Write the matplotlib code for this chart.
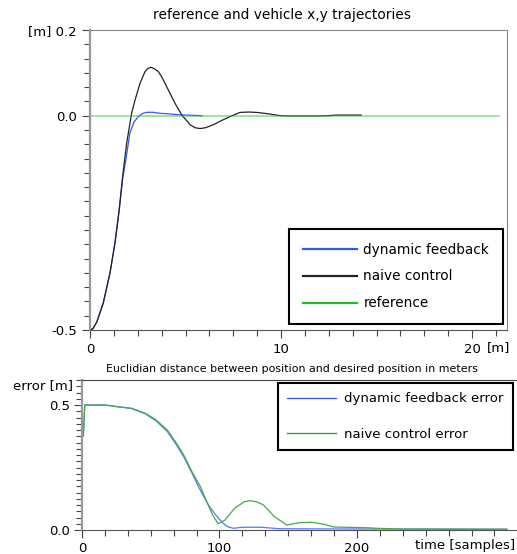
import matplotlib
matplotlib.use("Agg")
import matplotlib.pyplot as plt
from matplotlib.ticker import MultipleLocator

# top plot: x,y trajectories [m]
dyn_x = [0, 0.15, 0.35, 0.55, 0.70, 1.05, 1.31, 1.53, 1.71, 1.88, 2.09, 2.30, 2.53, 2.75,
         2.97, 3.30, 3.58, 4.20, 4.71, 5.30, 5.85]
dyn_y = [-0.5, -0.497, -0.482, -0.456, -0.436, -0.366, -0.296, -0.219, -0.147, -0.102,
         -0.040, -0.015, -0.002, 0.005, 0.008, 0.008, 0.006, 0.004, 0.002, 0.001, 0.0]

naive_x = [0, 0.15, 0.35, 0.55, 0.70, 1.05, 1.31, 1.53, 1.71, 1.92, 2.18, 2.36, 2.62, 2.88,
           3.03, 3.18, 3.35, 3.58, 3.80, 4.01, 4.45, 4.80, 5.24, 5.50, 5.76, 6.05, 6.46,
           6.90, 7.33, 7.85, 8.30, 8.73, 9.42, 9.86, 10.2, 11.95, 12.4, 12.9, 14.2]
naive_y = [-0.5, -0.497, -0.482, -0.456, -0.436, -0.366, -0.296, -0.219, -0.141, -0.064,
           0.006, 0.037, 0.076, 0.103, 0.110, 0.113, 0.110, 0.103, 0.087, 0.068, 0.029,
           0.002, -0.021, -0.028, -0.030, -0.028, -0.021, -0.011, -0.002, 0.0077, 0.0086,
           0.0077, 0.004, 0.0007, -0.0005, -0.0005, 0.0, 0.0015, 0.0015]

ref_x = [0, 21.4]
ref_y = [0, 0]

# bottom plot: error vs samples
naive_t = [1, 2, 17, 26, 36, 46, 54, 62, 68, 74, 80, 86, 91, 95, 99, 104, 111, 118, 122,
           127, 132, 140, 149, 158, 167, 176, 183, 207, 214, 231, 309]
naive_err = [0.376, 0.5, 0.5, 0.493, 0.487, 0.467, 0.44, 0.40, 0.353, 0.30, 0.233, 0.175,
             0.11, 0.06, 0.025, 0.04, 0.087, 0.113, 0.117, 0.113, 0.10, 0.053, 0.02,
             0.029, 0.031, 0.023, 0.012, 0.009, 0.007, 0.004, 0.003]

dyn_t = [1, 2, 17, 26, 36, 46, 54, 62, 68, 74, 80, 85, 92, 97, 102, 106, 110, 117, 130,
         144, 200, 309]
dyn_err = [0.376, 0.5, 0.5, 0.493, 0.486, 0.465, 0.436, 0.394, 0.346, 0.293, 0.228, 0.170,
           0.100, 0.062, 0.030, 0.013, 0.007, 0.011, 0.011, 0.005, 0.004, 0.003]


def style_axes(ax, pad=3.5):
    ax.tick_params(direction="out", length=6, width=0.8, color="#444444", labelsize=9.5,
                   pad=pad)
    ax.tick_params(which="minor", direction="out", length=4, width=0.8, color="#444444")
    ax.tick_params(top=False, right=False)
    ax.spines["left"].set_color("#999999")
    ax.spines["left"].set_linewidth(1.6)
    ax.spines["bottom"].set_color("#555555")
    ax.spines["top"].set_color("#888888")
    ax.spines["right"].set_color("#888888")


plt.rcParams["font.family"] = "DejaVu Sans"
plt.rcParams["axes.unicode_minus"] = False

fig = plt.figure(figsize=(5.17, 5.54), dpi=100)

# ---- top: trajectories
ax = fig.add_axes([90 / 517, 1 - 330 / 554, 417 / 517, 300 / 554])
ax.plot(dyn_x, dyn_y, color="#3355ff", lw=0.9, label="dynamic feedback")
ax.plot(naive_x, naive_y, color="#222222", lw=0.9, label="naive control")
ax.plot(ref_x, ref_y, color="#22bb22", lw=1.2, alpha=0.5, label="reference")
ax.set_xlim(0, 21.83)
ax.set_ylim(-0.5, 0.2)
ax.set_xticks([0, 10, 20])
ax.set_xticklabels(["0", "10", "20"])
ax.set_yticks([-0.5, 0.0, 0.2])
ax.set_yticklabels(["-0.5", "0.0", "[m] 0.2"])
ax.xaxis.set_minor_locator(MultipleLocator(1.25))
ax.yaxis.set_minor_locator(MultipleLocator(1 / 30))
style_axes(ax)
ax.text(20.8, -0.036, "[m]", transform=ax.get_xaxis_transform(), ha="left", va="top",
        fontsize=9.5)
fig.text(282 / 517, 1 - 15 / 554, "reference and vehicle x,y trajectories",
         ha="center", va="center", fontsize=9.9)
leg = ax.legend(loc="lower right", bbox_to_anchor=(0.99, 0.02), borderaxespad=0,
                fontsize=9.8, handlelength=4.0, handletextpad=0.45, labelspacing=0.95,
                borderpad=1.0, fancybox=False, framealpha=1)
leg.get_frame().set_edgecolor("black")
leg.get_frame().set_linewidth(1.5)
for h in leg.legend_handles:
    h.set_alpha(1)
    h.set_linewidth(1.6)

# ---- bottom: error
ax2 = fig.add_axes([82 / 517, 1 - 530 / 554, 435 / 517, 150 / 554])
ax2.plot(dyn_t, dyn_err, color="#5577ff", lw=0.9, label="dynamic feedback error")
ax2.plot(naive_t, naive_err, color="#44aa44", lw=0.9, label="naive control error")
ax2.set_xlim(0, 316.4)
ax2.set_ylim(0, 0.6)
ax2.set_xticks([0, 100, 200])
ax2.set_yticks([0.0, 0.5])
ax2.set_yticklabels(["0.0", "0.5"])
ax2.xaxis.set_minor_locator(MultipleLocator(100 / 6))
ax2.yaxis.set_minor_locator(MultipleLocator(0.025))
style_axes(ax2, pad=2.5)
ax2.spines["right"].set_visible(False)
ax2.spines["top"].set_color("#444444")
fig.text(73 / 517, 1 - 386 / 554, "error [m]", ha="right", va="center", fontsize=9.5)
fig.text(415 / 517, 1 - 546 / 554, "time [samples]", ha="left", va="center", fontsize=9.5)
fig.text(292 / 517, 1 - 369 / 554,
         "Euclidian distance between position and desired position in meters",
         ha="center", va="center", fontsize=7.9)
leg2 = ax2.legend(loc="upper right", bbox_to_anchor=(0.991, 0.98), borderaxespad=0,
                  fontsize=9.5, handlelength=3.7, handletextpad=0.65, labelspacing=1.7,
                  borderpad=0.7, fancybox=False, framealpha=1)
leg2.get_frame().set_edgecolor("black")
leg2.get_frame().set_linewidth(1.5)
leg2.legend_handles[0].set_color("#3355ee")
leg2.legend_handles[1].set_color("#2a9a2a")

fig.savefig("out.png", dpi=100)
